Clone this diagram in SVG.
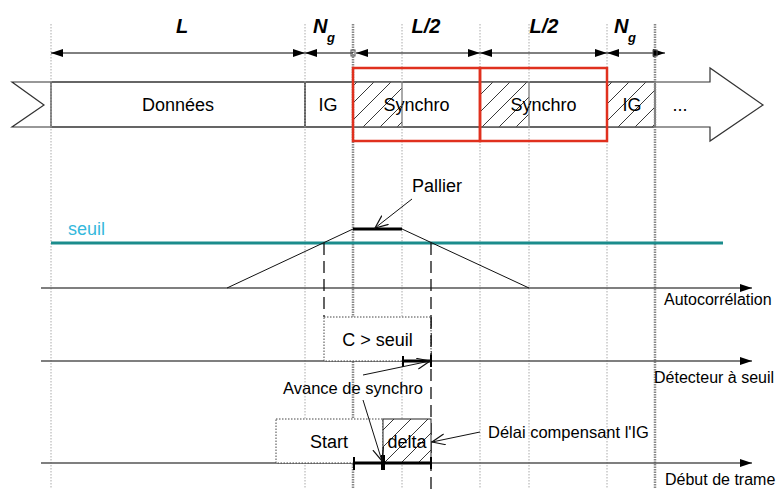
<svg xmlns="http://www.w3.org/2000/svg" width="777" height="489" viewBox="0 0 777 489">
<style>
text{font-family:"Liberation Sans",Arial,sans-serif;fill:#000}
.t18{font-size:18px}
.t15{font-size:16px}
.t16{font-size:16.5px}
.dim{font-size:20px;font-weight:bold;font-style:italic}
.sub{font-size:13px;font-weight:bold;font-style:italic}
.guide{stroke:#aaa;stroke-width:1;stroke-dasharray:1.5 1.5;fill:none}
.guideB{stroke:#888;stroke-width:2.5;stroke-dasharray:1.5 1;fill:none}
.seg{fill:none;stroke:#555;stroke-width:1.5}
.axis{stroke:#555;stroke-width:1.3;fill:none}
.dash{stroke:#111;stroke-width:1.3;stroke-dasharray:12 6;fill:none}
.thick{stroke:#000;stroke-width:3;fill:none}
.ptr{stroke:#111;stroke-width:1;fill:none}
.red{fill:none;stroke:#e0301e;stroke-width:2.5}
</style>
<defs>
<pattern id="hatch" patternUnits="userSpaceOnUse" width="17" height="17" x="0" y="82">
<rect width="17" height="17" fill="#fff"/>
<path d="M-1,18 L18,-1" stroke="#222" stroke-width="0.9"/>
</pattern>
<marker id="fa" markerUnits="userSpaceOnUse" markerWidth="12" markerHeight="8" refX="12" refY="4" orient="auto-start-reverse">
<path d="M0,0 L12,4 L0,8 z" fill="#000"/>
</marker>
<marker id="oa" markerUnits="userSpaceOnUse" markerWidth="14" markerHeight="12" refX="13" refY="6" orient="auto">
<path d="M0,0.5 L13,6 L0,11.5" fill="none" stroke="#111" stroke-width="1.2"/>
</marker>
</defs>

<g id="frame-arrow">
<path d="M12,82 L710,82 L710,68 L763,105 L710,141 L710,127 L12,127 L44,105 Z" fill="#fff" stroke="#333" stroke-width="1.2"/>
</g>
<g id="donnees">
<rect x="51" y="82" width="254" height="45" class="seg" fill="#fff"/>
<text class="t18" x="178" y="111" text-anchor="middle">Données</text>
</g>
<g id="ig1">
<rect x="305" y="82" width="48" height="45" class="seg"/>
<text class="t18" x="328" y="111" text-anchor="middle">IG</text>
</g>
<g id="synchro1">
<rect x="353" y="82" width="49" height="45" fill="url(#hatch)"/>
<rect x="353" y="82" width="127" height="45" class="seg"/>
<line x1="402" y1="82" x2="402" y2="127" stroke="#555" stroke-width="1"/>
<text class="t18" x="416.5" y="111" text-anchor="middle">Synchro</text>
</g>
<g id="synchro2">
<rect x="480" y="82" width="49" height="45" fill="url(#hatch)"/>
<rect x="480" y="82" width="127" height="45" class="seg"/>
<line x1="529" y1="82" x2="529" y2="127" stroke="#555" stroke-width="1"/>
<text class="t18" x="543.5" y="111" text-anchor="middle">Synchro</text>
</g>
<g id="ig2">
<rect x="607" y="82" width="48" height="45" fill="url(#hatch)"/>
<rect x="607" y="82" width="48" height="45" class="seg"/>
<text class="t18" x="632" y="111" text-anchor="middle">IG</text>
</g>
<g id="etc">
<text class="t18" x="680" y="111" text-anchor="middle">...</text>
</g>

<g id="guides">
<line class="guide" x1="51" y1="24" x2="51" y2="489"/>
<line class="guide" x1="305" y1="24" x2="305" y2="489"/>
<line class="guideB" x1="353" y1="24" x2="353" y2="489"/>
<line class="guide" x1="402" y1="24" x2="402" y2="489"/>
<line class="guide" x1="480" y1="24" x2="480" y2="489"/>
<line class="guide" x1="529" y1="24" x2="529" y2="489"/>
<line class="guide" x1="607" y1="24" x2="607" y2="489"/>
<line class="guideB" x1="655" y1="24" x2="655" y2="489"/>
</g>

<g id="red-windows">
<rect class="red" x="353" y="68" width="127" height="73"/>
<rect class="red" x="480" y="68" width="127" height="73"/>
</g>

<g id="dimensions">
<line x1="51" y1="53" x2="305" y2="53" stroke="#000" stroke-width="1" marker-start="url(#fa)" marker-end="url(#fa)"/>
<line x1="305" y1="53" x2="353" y2="53" stroke="#000" stroke-width="1" marker-start="url(#fa)"/>
<rect x="351" y="50" width="4" height="6" fill="none" stroke="#555" stroke-width="1"/>
<line x1="356" y1="53" x2="480" y2="53" stroke="#000" stroke-width="1" marker-start="url(#fa)" marker-end="url(#fa)"/>
<line x1="480" y1="53" x2="607" y2="53" stroke="#000" stroke-width="1" marker-start="url(#fa)" marker-end="url(#fa)"/>
<line x1="607" y1="53" x2="665" y2="53" stroke="#000" stroke-width="1" marker-start="url(#fa)" marker-end="url(#fa)"/>
<rect x="653" y="50" width="4" height="6" fill="none" stroke="#555" stroke-width="1"/>
<text class="dim" x="182" y="33" text-anchor="middle">L</text>
<text class="dim" x="313" y="33">N</text><text class="sub" x="327" y="42">g</text>
<text class="dim" x="426" y="33" text-anchor="middle">L/2</text>
<text class="dim" x="544" y="33" text-anchor="middle">L/2</text>
<text class="dim" x="614" y="33">N</text><text class="sub" x="628" y="42">g</text>
</g>

<g id="seuil">
<line x1="51" y1="243" x2="723" y2="243" stroke="#1b8c8c" stroke-width="3"/>
<text class="t18" x="68" y="235" style="fill:#35b8dc">seuil</text>
</g>

<g id="axes">
<line class="axis" x1="41" y1="288" x2="752" y2="288" marker-end="url(#fa)"/>
<line class="axis" x1="41" y1="361" x2="752" y2="361" marker-end="url(#fa)"/>
<line class="axis" x1="41" y1="463" x2="752" y2="463" marker-end="url(#fa)"/>
<text class="t15" x="664" y="305">Autocorrélation</text>
<text class="t15" x="654" y="383">Détecteur à seuil</text>
<text class="t15" x="665" y="485">Début de trame</text>
</g>

<g id="autocorrelation">
<polyline points="227,288 353,229 402,229 529,288" fill="none" stroke="#111" stroke-width="1"/>
<line class="thick" x1="353" y1="229" x2="402" y2="229"/>
<line class="dash" x1="324" y1="243" x2="324" y2="317"/>
<line class="dash" x1="431" y1="243" x2="431" y2="489"/>
</g>

<g id="c-seuil">
<rect x="324" y="317" width="107" height="44" fill="#fff" stroke="#444" stroke-width="1" stroke-dasharray="1.5 1.5"/>
<line x1="431" y1="317" x2="431" y2="361" stroke="#111" stroke-width="1.3" stroke-dasharray="12 6"/>
<text class="t18" x="377.5" y="346" text-anchor="middle">C &gt; seuil</text>
</g>

<g id="start">
<rect x="276" y="419" width="107" height="44" fill="#fff" stroke="#444" stroke-width="1" stroke-dasharray="1.5 1.5"/>
<text class="t18" x="329" y="448" text-anchor="middle">Start</text>
</g>
<g id="delta">
<rect x="383" y="419" width="48" height="44" fill="url(#hatch)" stroke="#222" stroke-width="1"/>
<text class="t18" x="407" y="448" text-anchor="middle">delta</text>
</g>

<g id="markers">
<line class="thick" x1="403" y1="361" x2="431" y2="361"/>
<line x1="403" y1="356" x2="403" y2="367" stroke="#000" stroke-width="2"/>
<line x1="431" y1="355" x2="431" y2="367" stroke="#000" stroke-width="2"/>
<line class="thick" x1="354" y1="463" x2="431" y2="463"/>
<line x1="354" y1="457" x2="354" y2="470" stroke="#000" stroke-width="2"/>
<line x1="383" y1="455" x2="383" y2="470" stroke="#000" stroke-width="4"/>
<line x1="431" y1="457" x2="431" y2="469" stroke="#000" stroke-width="2"/>
</g>

<g id="connectors">
<line class="ptr" x1="412" y1="199" x2="375" y2="228" marker-end="url(#oa)"/>
<line class="ptr" x1="363" y1="375" x2="430" y2="361" marker-end="url(#oa)"/>
<line class="ptr" x1="363" y1="400" x2="382" y2="461" marker-end="url(#oa)"/>
<line class="ptr" x1="480" y1="432" x2="432" y2="442" marker-end="url(#oa)"/>
</g>

<g id="labels">
<text class="t18" x="412" y="192">Pallier</text>
<text class="t16" x="283" y="394">Avance de synchro</text>
<text class="t16" x="488" y="438">Délai compensant l'IG</text>
</g>
</svg>
